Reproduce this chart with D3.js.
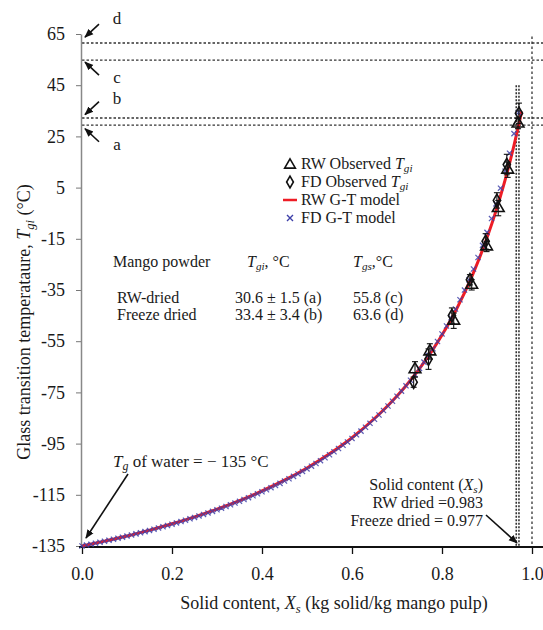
<!DOCTYPE html>
<html><head><meta charset="utf-8">
<script src="https://cdn.jsdelivr.net/npm/d3@7"></script>
<style>
body{margin:0;background:#fff}
svg text{font-family:"Liberation Serif","Times New Roman",serif;fill:#1a1a1a}
</style>
</head><body><svg id="c" width="543" height="630"></svg>
<script>
// ---------- data ----------
const xTicks = [0, 0.2, 0.4, 0.6, 0.8, 1.0];
const yTicks = [65, 45, 25, 5, -15, -35, -55, -75, -95, -115, -135];

// RW G-T model (red line)
const rwModelX = [0, 0.05, 0.1, 0.15, 0.2, 0.25, 0.3, 0.35, 0.4, 0.45, 0.5, 0.55, 0.6, 0.65, 0.68, 0.7, 0.72, 0.75, 0.78, 0.8, 0.82, 0.85, 0.87, 0.9, 0.92, 0.93, 0.94, 0.95, 0.96, 0.97, 0.977];
const rwModelT = [-135, -133.1, -131.1, -128.8, -126.3, -123.6, -120.6, -117.3, -113.5, -109.3, -104.5, -99.0, -92.7, -85.2, -80.1, -76.4, -72.4, -65.7, -58.2, -52.6, -46.5, -36.1, -28.2, -14.6, -4.1, 1.7, 7.8, 14.4, 21.5, 29.1, 34.8];

// FD G-T model (blue x markers)
const fdModelX = [0,0.01,0.02,0.03,0.04,0.05,0.06,0.07,0.08,0.09,0.1,0.11,0.12,0.13,0.14,0.15,0.16,0.17,0.18,0.19,0.2,0.21,0.22,0.23,0.24,0.25,0.26,0.27,0.28,0.29,0.3,0.31,0.32,0.33,0.34,0.35,0.36,0.37,0.38,0.39,0.4,0.41,0.42,0.43,0.44,0.45,0.46,0.47,0.48,0.49,0.5,0.51,0.52,0.53,0.54,0.55,0.56,0.57,0.58,0.59,0.6,0.61,0.62,0.63,0.64,0.65,0.66,0.67,0.68,0.69,0.7,0.71,0.72,0.73,0.74,0.75,0.76,0.77,0.78,0.79,0.8,0.81,0.82,0.83,0.84,0.85,0.86,0.87,0.88,0.89,0.9,0.91,0.92,0.93,0.94,0.95,0.96,0.97];
const fdModelT = [-135.0,-134.64,-134.28,-133.91,-133.53,-133.15,-132.76,-132.36,-131.96,-131.55,-131.13,-130.70,-130.27,-129.83,-129.38,-128.92,-128.46,-127.98,-127.50,-127.00,-126.50,-125.99,-125.46,-124.93,-124.38,-123.83,-123.26,-122.67,-122.08,-121.48,-120.86,-120.23,-119.58,-118.92,-118.24,-117.55,-116.84,-116.12,-115.38,-114.62,-113.84,-113.04,-112.22,-111.39,-110.53,-109.64,-108.74,-107.81,-106.85,-105.87,-104.87,-103.82,-102.76,-101.66,-100.53,-99.37,-98.17,-96.93,-95.66,-94.34,-92.98,-91.58,-90.13,-88.63,-87.08,-85.48,-83.81,-82.09,-80.30,-78.44,-76.52,-74.51,-72.43,-70.26,-68.00,-65.64,-63.18,-60.61,-57.93,-55.11,-52.16,-49.07,-45.83,-42.41,-38.81,-35.03,-31.02,-26.79,-22.30,-17.55,-12.49,-7.10,-1.36,4.78,11.37,18.45,26.08,34.32];

// Observed
const rwObsX = [0.740, 0.773, 0.826, 0.866, 0.899, 0.925, 0.946, 0.969];
const rwObsT = [-66, -59, -47, -33, -18, -3, 12, 30];
const rwObsErr = [3, 3, 3, 2, 2, 3, 3, 2];
const fdObsX = [0.737, 0.770, 0.822, 0.862, 0.897, 0.922, 0.944, 0.971];
const fdObsT = [-71, -62, -45, -31, -16, 0, 14, 34];
const fdObsErr = [2, 4, 3, 2, 3, 3, 4, 4];

// reference dotted lines
const levelValues = [61.5, 54.8, 32.2, 29.4];
const solidContentLines = [0.965, 0.971];
const solidContentTop = 45;
const unityLineTop = 64;
const arrowLabels = ["d", "c", "b", "a"];
const arrowTips = [63.8, 54.0, 33.5, 28.0];
const arrowDir = [-1, 1, -1, 1]; // -1: arrow comes from above, 1: from below
const arrowLabelY = [24, 83, 104, 150];

// table
const tableHeader = ["Mango powder", "T|gi|, °C", "T|gs|,°C"];
const tableRows = [["RW-dried", "30.6 ± 1.5 (a)", "55.8 (c)"], ["Freeze dried", "33.4 ± 3.4 (b)", "63.6 (d)"]];

// ---------- chart ----------
const svg = d3.select("#c");
const x = d3.scaleLinear().domain([0, 1]).range([82, 532]);
const y = d3.scaleLinear().domain([-135, 65]).range([546, 34]);
const F = '"Liberation Serif","Times New Roman",serif';

svg.append("defs").append("marker").attr("id", "ah").attr("viewBox", "0 0 10 10")
  .attr("refX", 9).attr("refY", 5).attr("markerWidth", 9).attr("markerHeight", 9)
  .attr("markerUnits", "userSpaceOnUse").attr("orient", "auto")
  .append("path").attr("d", "M0,1 L10,5 L0,9 Z").attr("fill", "#111");

// dotted horizontal level lines
svg.append("g").selectAll("line").data(levelValues).join("line")
  .attr("x1", x(0)).attr("x2", 543).attr("y1", d => y(d)).attr("y2", d => y(d))
  .attr("stroke", "#333").attr("stroke-width", 1.4).attr("stroke-dasharray", "2.5,2");

// vertical dotted lines
svg.append("g").selectAll("line").data(solidContentLines).join("line")
  .attr("x1", d => x(d)).attr("x2", d => x(d)).attr("y1", y(solidContentTop)).attr("y2", y(-135))
  .attr("stroke", "#333").attr("stroke-width", 1.6).attr("stroke-dasharray", "2,1.5");
svg.append("line").attr("x1", x(1)).attr("x2", x(1)).attr("y1", y(unityLineTop)).attr("y2", y(-135))
  .attr("stroke", "#333").attr("stroke-width", 1.3).attr("stroke-dasharray", "2.5,2.5");

// axes
const yAxis = svg.append("g").attr("transform", `translate(${x(0) - 1},0)`)
  .call(d3.axisLeft(y).tickValues(yTicks).tickFormat(d => String(d)).tickSize(5).tickPadding(11).tickSizeOuter(0));
yAxis.select(".domain").attr("stroke", "#888").attr("stroke-width", 1.5);
yAxis.selectAll(".tick line").attr("stroke", "#777");
yAxis.selectAll("text").style("font-family", F).style("font-size", "18px").attr("fill", "#1a1a1a");

const xAxis = svg.append("g").attr("transform", `translate(0,${y(-135) + 1})`)
  .call(d3.axisBottom(x).tickValues(xTicks).tickFormat(d3.format(".1f")).tickSize(7).tickPadding(13).tickSizeOuter(0));
xAxis.select(".domain").remove();
xAxis.selectAll(".tick line").attr("stroke", "#111").attr("stroke-width", 1.3);
xAxis.selectAll("text").style("font-family", F).style("font-size", "18px").attr("fill", "#1a1a1a");
svg.append("line").attr("x1", x(0) - 3).attr("x2", 543).attr("y1", y(-135) + 1).attr("y2", y(-135) + 1)
  .attr("stroke", "#111").attr("stroke-width", 1.8);

// red RW model line
const rwData = rwModelX.map((v, i) => [v, rwModelT[i]]);
svg.append("path").datum(rwData)
  .attr("d", d3.line().x(d => x(d[0])).y(d => y(d[1])).curve(d3.curveMonotoneX))
  .attr("fill", "none").attr("stroke", "#ee1c25").attr("stroke-width", 3);

// blue x markers FD model
const xm = 2.6;
svg.append("g").selectAll("path").data(fdModelX.map((v, i) => [v, fdModelT[i]])).join("path")
  .attr("d", d => { const cx = x(d[0]), cy = y(d[1]);
    return `M${cx - xm},${cy - xm}L${cx + xm},${cy + xm}M${cx - xm},${cy + xm}L${cx + xm},${cy - xm}`; })
  .attr("stroke", "#3d3fa8").attr("stroke-width", 1.2).attr("fill", "none").attr("opacity", 0.85);

// error bars + markers
function errBars(X, T, E) {
  const g = svg.append("g").attr("stroke", "#111").attr("stroke-width", 1.1);
  X.forEach((v, i) => {
    const cx = x(v), y1 = y(T[i] - E[i]), y2 = y(T[i] + E[i]);
    g.append("line").attr("x1", cx).attr("x2", cx).attr("y1", y1).attr("y2", y2);
    g.append("line").attr("x1", cx - 3).attr("x2", cx + 3).attr("y1", y1).attr("y2", y1);
    g.append("line").attr("x1", cx - 3).attr("x2", cx + 3).attr("y1", y2).attr("y2", y2);
  });
}
errBars(rwObsX, rwObsT, rwObsErr);
errBars(fdObsX, fdObsT, fdObsErr);
const tri = d3.symbol(d3.symbolTriangle, 60);
const dia = d3.symbol(d3.symbolDiamond, 45);
svg.append("g").selectAll("path").data(rwObsX).join("path")
  .attr("transform", (d, i) => `translate(${x(d)},${y(rwObsT[i])})`).attr("d", tri)
  .attr("fill", "none").attr("stroke", "#111").attr("stroke-width", 1.6);
svg.append("g").selectAll("path").data(fdObsX).join("path")
  .attr("transform", (d, i) => `translate(${x(d)},${y(fdObsT[i])})`).attr("d", dia)
  .attr("fill", "none").attr("stroke", "#111").attr("stroke-width", 1.6);

// helper for text with italic + subscript
function richText(sel, parts) {
  parts.forEach(p => {
    const t = sel.append("tspan").text(p.t);
    if (p.i) t.attr("font-style", "italic");
    if (p.sub) t.attr("baseline-shift", "-28%").attr("font-size", "0.7em").attr("font-style", "italic");
  });
}
function parseRich(s) { // "T|gi|, °C" -> parts
  const a = s.split("|");
  if (a.length === 1) return [{ t: s }];
  return [{ t: a[0], i: true }, { t: a[1], sub: true }, { t: a[2] }];
}

// legend
const lg = svg.append("g");
const legX = 290, legText = 301, legRows = [164, 182, 200, 218];
lg.append("path").attr("transform", `translate(${legX},${legRows[0] + 1})`).attr("d", d3.symbol(d3.symbolTriangle, 50))
  .attr("fill", "none").attr("stroke", "#111").attr("stroke-width", 1.6);
lg.append("path").attr("transform", `translate(${legX},${legRows[1]})`).attr("d", d3.symbol(d3.symbolDiamond, 40))
  .attr("fill", "none").attr("stroke", "#111").attr("stroke-width", 1.6);
lg.append("line").attr("x1", legX - 7).attr("x2", legX + 7).attr("y1", legRows[2]).attr("y2", legRows[2])
  .attr("stroke", "#ee1c25").attr("stroke-width", 2.5);
lg.append("path").attr("d", `M${legX - 3},${legRows[3] - 3}L${legX + 3},${legRows[3] + 3}M${legX - 3},${legRows[3] + 3}L${legX + 3},${legRows[3] - 3}`)
  .attr("stroke", "#3d3fa8").attr("stroke-width", 1.4);
const legLabels = [[{ t: "RW Observed " }, { t: "T", i: true }, { t: "gi", sub: true }],
                   [{ t: "FD Observed " }, { t: "T", i: true }, { t: "gi", sub: true }],
                   [{ t: "RW G-T model" }], [{ t: "FD G-T model" }]];
legLabels.forEach((parts, i) => {
  const t = lg.append("text").attr("x", legText).attr("y", legRows[i] + 5).style("font-size", "16px");
  richText(t, parts);
});

// table
const colX = [113, 247, 353], rowY = [267, 303, 320];
tableHeader.forEach((s, j) => {
  const t = svg.append("text").attr("x", colX[j]).attr("y", rowY[0]).style("font-size", "16px");
  richText(t, parseRich(s));
});
tableRows.forEach((r, i) => r.forEach((s, j) => {
  svg.append("text").attr("x", j === 0 ? colX[0] + 4 : colX[j] - 12 * (j === 1)).attr("y", rowY[i + 1])
    .style("font-size", "16px").text(s);
}));

// arrows a-d
arrowTips.forEach((v, i) => {
  const tx = x(0) + 3, ty = y(v);
  svg.append("line").attr("x1", tx + 14).attr("y1", ty + 13 * arrowDir[i]).attr("x2", tx).attr("y2", ty)
    .attr("stroke", "#111").attr("stroke-width", 1.6).attr("marker-end", "url(#ah)");
  svg.append("text").attr("x", 117).attr("y", arrowLabelY[i])
    .attr("text-anchor", "middle").style("font-size", "17px").text(arrowLabels[i]);
});

// Tg water annotation
const tw = svg.append("text").attr("x", 113).attr("y", 467).style("font-size", "17px");
richText(tw, [{ t: "T", i: true }, { t: "g", sub: true }, { t: " of water = − 135 °C" }]);
svg.append("line").attr("x1", 128).attr("y1", 474).attr("x2", x(0) + 4).attr("y2", y(-135) - 8)
  .attr("stroke", "#111").attr("stroke-width", 1.6).attr("marker-end", "url(#ah)");

// Solid content annotation
const scLines = [[{ t: "Solid content (" }, { t: "X", i: true }, { t: "s", sub: true }, { t: ")" }],
                 [{ t: "RW dried =0.983" }], [{ t: "Freeze dried = 0.977" }]];
const scY = [490, 508, 526];
scLines.forEach((parts, i) => {
  const t = svg.append("text").attr("x", 483).attr("y", scY[i]).attr("text-anchor", "end").style("font-size", "16px");
  richText(t, parts);
});
svg.append("line").attr("x1", 486).attr("y1", 515).attr("x2", 517).attr("y2", y(-135) - 3)
  .attr("stroke", "#111").attr("stroke-width", 1.6).attr("marker-end", "url(#ah)");

// axis titles
const yt = svg.append("text").attr("transform", "translate(30,322) rotate(-90)").attr("text-anchor", "middle").style("font-size", "18px");
richText(yt, [{ t: "Glass transition temperataure, " }, { t: "T", i: true }, { t: "gi", sub: true }, { t: " (°C)" }]);
const xt = svg.append("text").attr("x", 334).attr("y", 609).attr("text-anchor", "middle").style("font-size", "18px");
richText(xt, [{ t: "Solid content, " }, { t: "X", i: true }, { t: "s", sub: true }, { t: " (kg solid/kg mango pulp)" }]);
</script>
</body></html>
